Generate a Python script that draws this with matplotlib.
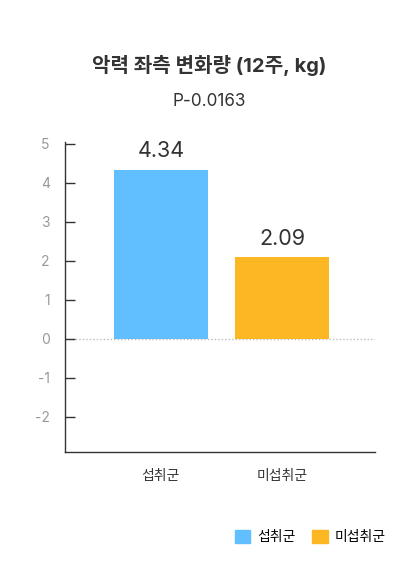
import matplotlib.pyplot as plt

plt.rcParams['font.family'] = ['Inter', 'Noto Sans CJK KR', 'DejaVu Sans']
plt.rcParams['axes.unicode_minus'] = False

groups = ['섭취군', '미섭취군']
values = [4.34, 2.09]
colors = ['#62bfff', '#fdb722']
yticks = [-2, -1, 0, 1, 2, 3, 4, 5]

fig = plt.figure(figsize=(4.19, 5.77), dpi=100)
ax = fig.add_axes([0.155, 0.2166, 0.74, 0.5374])

x = range(len(groups))
bars = ax.bar(x, values, width=0.777, color=colors, zorder=2)
for xi, v in zip(x, values):
    ax.text(xi, v + 0.22, f'{v:.2f}', ha='center', va='bottom', fontsize=15.5, color='#333333')

ax.axhline(0, color='#bbbbbb', linestyle=(0, (1, 1.5)), linewidth=1, zorder=1)

ax.set_xlim(-0.793, 1.769)
ax.set_ylim(-2.9, 5.05)
ax.set_yticks(yticks)
ax.set_xticks(list(x))
ax.set_xticklabels(groups, fontsize=10, color='#333333')
ax.tick_params(axis='x', length=0, pad=12)
ax.tick_params(axis='y', direction='in', length=7, width=1, color='#333333',
               labelcolor='#999999', labelsize=10, pad=11)
for s in ['top', 'right']:
    ax.spines[s].set_visible(False)
for s in ['left', 'bottom']:
    ax.spines[s].set_color('#333333')
    ax.spines[s].set_linewidth(1)

fig.text(0.5, 1 - 66 / 577, '악력 좌측 변화량 (12주, kg)', ha='center', va='center',
         fontsize=14.5, fontweight='bold', color='#333333')
fig.text(0.5, 1 - 101 / 577, 'P-0.0163', ha='center', va='center', fontsize=12.3, color='#333333')

handles = [plt.Rectangle((0, 0), 1, 1, color=c) for c in colors]
fig.legend(handles, groups, loc='center right', bbox_to_anchor=(0.95, 1 - 537 / 577),
           ncol=2, frameon=False, fontsize=10, handlelength=1.1, handleheight=1.1,
           handletextpad=0.5, columnspacing=1.2)

fig.savefig('out.png', dpi=100)
